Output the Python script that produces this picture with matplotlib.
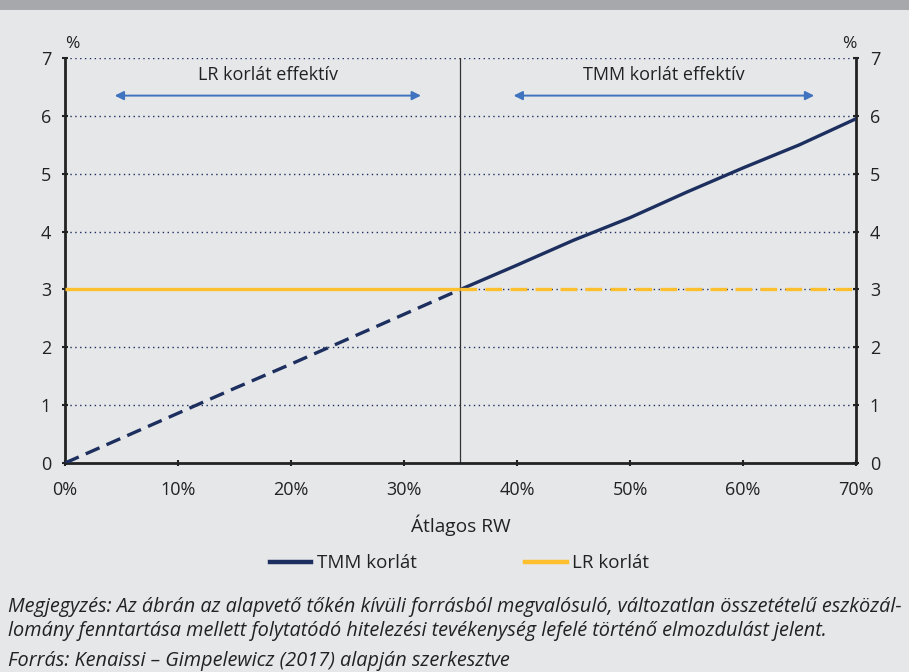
import matplotlib
matplotlib.use('Agg')
import matplotlib.pyplot as plt
from matplotlib.patches import Rectangle
from matplotlib.lines import Line2D

# Data
rw = [0, 5, 10, 15, 20, 25, 30, 35, 40, 45, 50, 55, 60, 65, 70]
tmm = [0, 0.43, 0.86, 1.29, 1.71, 2.14, 2.57, 3.0, 3.42, 3.85, 4.24, 4.68, 5.1, 5.5, 5.95]
lr = [3.0] * len(rw)
split_rw = 35
x_ticks = [0, 10, 20, 30, 40, 50, 60, 70]
x_tick_labels = ['0%', '10%', '20%', '30%', '40%', '50%', '60%', '70%']
y_ticks = [0, 1, 2, 3, 4, 5, 6, 7]
lr_zone = (4.4, 31.5)
tmm_zone = (39.7, 66.3)

bg = '#e6e7e9'
navy = '#1c2f5e'
gold = '#fdbf2d'
arrow_col = '#3f73bf'
txt = '#222222'

plt.rcParams['font.family'] = ['Open Sans', 'DejaVu Sans']

fig = plt.figure(figsize=(9.09, 6.72), dpi=100)
fig.patch.set_facecolor(bg)
fig.patches.append(Rectangle((0, 1 - 10 / 672), 1, 10 / 672, transform=fig.transFigure,
                             facecolor='#a7a8ac', edgecolor='none'))

ax = fig.add_axes([0.0715, 0.311, 0.8702, 0.6027])
ax.set_facecolor(bg)

i = rw.index(split_rw)
# TMM: dashed before the split, solid after
ax.plot(rw[:i + 1], tmm[:i + 1], color=navy, lw=2.4, ls=(0, (4.5, 2.3)), zorder=3)
ax.plot(rw[i:], tmm[i:], color=navy, lw=2.4, zorder=3)
# LR: solid before the split, dashed after
ax.plot(rw[:i + 1], lr[:i + 1], color=gold, lw=2.4, zorder=4, solid_capstyle='butt')
ax.plot(rw[i:], lr[i:], color=gold, lw=2.4, ls=(0, (5, 2.5)), zorder=4)

ax.axvline(split_rw, color='#333333', lw=0.9, zorder=2)

for y in y_ticks[1:]:
    ax.axhline(y, color=navy, lw=1.0, ls=(0, (1, 2.5)), zorder=1)

ax.set_xlim(0, 70)
ax.set_ylim(0, 7)
ax.set_xticks(x_ticks)
ax.set_xticklabels(x_tick_labels)
ax.set_yticks(y_ticks)
ax.tick_params(axis='both', labelsize=13, color=txt, labelcolor=txt, width=1.5, length=4,
               direction='inout')
ax.tick_params(axis='x', pad=11)
ax.tick_params(axis='y', pad=8, right=True, labelright=True)
for s in ['left', 'right', 'bottom']:
    ax.spines[s].set_linewidth(2.0)
    ax.spines[s].set_color(txt)
ax.spines['top'].set_visible(False)

ax.text(0.009, 1.035, '%', transform=ax.transAxes, fontsize=12.5, ha='center', va='center',
        color=txt)
ax.text(0.9915, 1.035, '%', transform=ax.transAxes, fontsize=12.5, ha='center', va='center',
        color=txt)

# effective-zone arrows
for (x0, x1), label in [(lr_zone, 'LR korlát effektív'), (tmm_zone, 'TMM korlát effektív')]:
    ax.annotate('', xy=(x1, 6.35), xytext=(x0, 6.35),
                arrowprops=dict(arrowstyle='<|-|>', color=arrow_col, lw=1.4,
                                mutation_scale=13, shrinkA=0, shrinkB=0))
    ax.text((x0 + x1) / 2, 6.7, label, fontsize=13, ha='center', va='center', color=txt)

ax.set_xlabel('Átlagos RW', fontsize=13.8, labelpad=11, color=txt)

handles = [Line2D([], [], color=navy, lw=3.2), Line2D([], [], color=gold, lw=3.2)]
fig.legend(handles, ['TMM korlát', 'LR korlát'], loc='center', bbox_to_anchor=(0.5055, 0.162),
           ncol=2, frameon=False, fontsize=13.5, handlelength=2.2, handletextpad=0.3,
           columnspacing=5.8, labelcolor=txt)

note_kw = dict(fontsize=14.3, style='italic', va='center', color=txt)
fig.text(0.009, 1 - 607 / 672,
         'Megjegyzés: Az ábrán az alapvető tőkén kívüli forrásból megvalósuló, változatlan összetételű eszközál-',
         **note_kw)
fig.text(0.009, 1 - 631 / 672,
         'lomány fenntartása mellett folytatódó hitelezési tevékenység lefelé történő elmozdulást jelent.',
         **note_kw)
fig.text(0.009, 1 - 661 / 672,
         'Forrás: Kenaissi – Gimpelewicz (2017) alapján szerkesztve',
         **note_kw)

fig.savefig('out.png', dpi=100, facecolor=bg)
